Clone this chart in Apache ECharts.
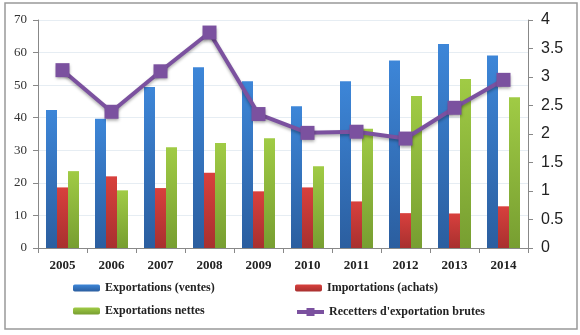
<!DOCTYPE html>
<html>
<head>
    <meta charset="utf-8">
    <title>Exportations</title>
    <script src="https://cdn.jsdelivr.net/npm/echarts@6/dist/echarts.min.js"></script>
    <style>
        body { margin: 0; background: #fff; }
    </style>
</head>
<body>
<div id="main" style="width: 580px;height:335px;"></div>
<script type="text/javascript">
    // donnees
    var years = ['2005', '2006', '2007', '2008', '2009', '2010', '2011', '2012', '2013', '2014'];
    var exportations = [42.4, 39.7, 49.4, 55.5, 51.2, 43.5, 51.2, 57.6, 62.6, 59.1];
    var importations = [18.6, 22.0, 18.4, 23.1, 17.4, 18.6, 14.3, 10.7, 10.6, 12.8];
    var nettes = [23.6, 17.7, 30.9, 32.2, 33.7, 25.1, 36.6, 46.7, 51.9, 46.3];
    var recettes = [3.12, 2.39, 3.10, 3.78, 2.35, 2.02, 2.04, 1.92, 2.46, 2.95];

    var names = ['Exportations (ventes)', 'Importations (achats)', 'Exportations nettes', "Recetters d'exportation brutes"];

    function grad(top, bottom) {
        return new echarts.graphic.LinearGradient(0, 0, 0, 1, [
            {offset: 0, color: top},
            {offset: 1, color: bottom}
        ]);
    }

    var legendText = {fontFamily: 'Liberation Serif', fontWeight: 'bold', fontSize: 12, color: '#222'};
    function legendAt(name, left, top) {
        return {
            data: [name], left: left, top: top,
            itemWidth: 27, itemHeight: 7, itemGap: 2,
            textStyle: legendText, selectedMode: false, padding: 0
        };
    }

    var lineLegend = legendAt(names[3], 295, 306);
    lineLegend.itemHeight = 10;
    lineLegend.lineStyle = {width: 4};

    var myChart = echarts.init(document.getElementById('main'));
    var option = {
        animation: false,
        backgroundColor: '#fff',
        graphic: [{
            type: 'rect',
            shape: {x: 5, y: 3, width: 572, height: 326},
            style: {fill: null, stroke: '#999', lineWidth: 1.5}
        }],
        grid: {left: 38, right: 52, top: 20, bottom: 87},
        legend: [
            legendAt(names[0], 73, 282),
            legendAt(names[1], 295, 282),
            legendAt(names[2], 73, 305),
            lineLegend
        ],
        xAxis: {
            type: 'category',
            data: years,
            axisLine: {lineStyle: {color: '#888'}},
            axisTick: {show: true, length: 5, lineStyle: {color: '#888'}},
            axisLabel: {margin: 11, fontFamily: 'Liberation Serif', fontWeight: 'bold', fontSize: 13, color: '#222'}
        },
        yAxis: [
            {
                type: 'value', min: 0, max: 70, interval: 10,
                axisLine: {show: true, lineStyle: {color: '#888'}},
                axisTick: {show: true, length: 5, lineStyle: {color: '#888'}},
                axisLabel: {margin: 11, fontFamily: 'Liberation Serif', fontSize: 13, color: '#333'},
                splitLine: {lineStyle: {color: '#e6edf3'}}
            },
            {
                type: 'value', min: 0, max: 4, interval: 0.5,
                axisLine: {show: true, lineStyle: {color: '#888'}},
                axisTick: {show: true, length: 5, lineStyle: {color: '#888'}},
                axisLabel: {margin: 13, fontFamily: 'Liberation Sans', fontSize: 16, color: '#222'},
                splitLine: {show: false}
            }
        ],
        series: [
            {
                name: names[0], type: 'bar', data: exportations,
                barWidth: 11, barGap: '0%',
                itemStyle: {color: grad('#3d86d8', '#2b5e9f')}
            },
            {
                name: names[1], type: 'bar', data: importations,
                barWidth: 11, barGap: '0%',
                itemStyle: {color: grad('#d8403d', '#a8302f')}
            },
            {
                name: names[2], type: 'bar', data: nettes,
                barWidth: 11, barGap: '0%',
                itemStyle: {color: grad('#a0cb45', '#779e31')}
            },
            {
                name: names[3], type: 'line', data: recettes, yAxisIndex: 1,
                symbol: 'rect', symbolSize: 14,
                lineStyle: {color: '#7b519f', width: 4, shadowColor: 'rgba(0,0,0,0.3)', shadowBlur: 3, shadowOffsetY: 2},
                itemStyle: {color: '#7b519f', shadowColor: 'rgba(0,0,0,0.35)', shadowBlur: 3, shadowOffsetY: 2}
            }
        ]
    };
    myChart.setOption(option);
</script>
</body>
</html>
